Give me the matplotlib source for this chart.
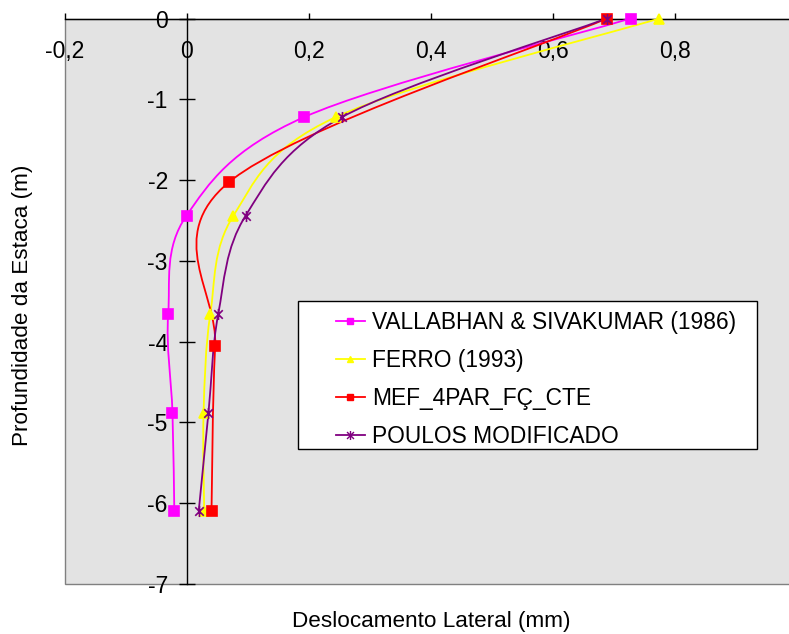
import numpy as np
import matplotlib
matplotlib.use('Agg')
import matplotlib.pyplot as plt
from matplotlib.path import Path
from matplotlib.patches import PathPatch, Rectangle
from matplotlib.lines import Line2D

plt.rcParams['font.family'] = ['Liberation Sans', 'DejaVu Sans']
plt.rcParams['axes.unicode_minus'] = False

# depths (m) and lateral displacement (mm)
depth_6 = [0, -1.22, -2.44, -3.66, -4.88, -6.10]
depth_4 = [0, -2.03, -4.06, -6.10]

vallabhan = [0.728, 0.193, 0.000, -0.030, -0.023, -0.020]
ferro = [0.775, 0.245, 0.077, 0.039, 0.028, 0.029]
mef = [0.689, 0.069, 0.047, 0.041]
poulos = [0.689, 0.255, 0.097, 0.052, 0.036, 0.020]

x_ticks = [-0.2, 0, 0.2, 0.4, 0.6, 0.8]
x_tick_labels = ['-0,2', '0', '0,2', '0,4', '0,6', '0,8']
y_ticks = [0, -1, -2, -3, -4, -5, -6, -7]
y_tick_labels = ['0', '-1', '-2', '-3', '-4', '-5', '-6', '-7']

# excel style asterisk: x plus a vertical bar
star = Path([(-1, -1), (1, 1), (-1, 1), (1, -1), (0, -1.3), (0, 1.3)],
            [Path.MOVETO, Path.LINETO, Path.MOVETO, Path.LINETO, Path.MOVETO, Path.LINETO])

series = [
    (vallabhan, depth_6, '#ff00ff', 's', 'VALLABHAN & SIVAKUMAR (1986)'),
    (ferro, depth_6, '#ffff00', '^', 'FERRO (1993)'),
    (mef, depth_4, '#ff0000', 's', 'MEF_4PAR_FÇ_CTE'),
    (poulos, depth_6, '#800080', star, 'POULOS MODIFICADO'),
]


def smooth_path(xs, ys):
    # bezier smoothing through the points (like excel smoothed lines)
    p = np.column_stack([xs, ys]).astype(float)
    n = len(p)
    verts = [p[0]]
    codes = [Path.MOVETO]
    for i in range(n - 1):
        p0 = p[i - 1] if i > 0 else p[i]
        p3 = p[i + 2] if i + 2 < n else p[i + 1]
        c1 = p[i] + (p[i + 1] - p0) / 6.0
        c2 = p[i + 1] - (p3 - p[i]) / 6.0
        verts += [c1, c2, p[i + 1]]
        codes += [Path.CURVE4] * 3
    return Path(verts, codes)


fig = plt.figure(figsize=(7.89, 6.34), dpi=100)
W, H = 789.0, 634.0
left_px, right_px, top_px, bot_px = 64.5, 796.5, 18.5, 584.0
ax = fig.add_axes([left_px / W, 1 - bot_px / H, (right_px - left_px) / W, (bot_px - top_px) / H])
ax.set_xlim(-0.2, 1.0)
ax.set_ylim(-7, 0)
ax.set_facecolor('#e3e3e3')
ax.patch.set_edgecolor('#808080')
ax.patch.set_linewidth(1.0)

for sp in ['bottom', 'right']:
    ax.spines[sp].set_visible(False)
ax.spines['top'].set_color('black')
ax.spines['top'].set_linewidth(1.0)
ax.spines['left'].set_position(('data', 0))
ax.spines['left'].set_color('black')
ax.spines['left'].set_linewidth(1.0)

ax.xaxis.set_ticks_position('top')
ax.set_xticks(x_ticks)
ax.set_xticklabels([])
ax.tick_params(axis='x', direction='out', length=4.5, width=1, color='black')
for xv, lab in zip(x_ticks, x_tick_labels):
    ax.text(xv, -0.41, lab, ha='center', va='center', fontsize=16.5)

ax.set_yticks(y_ticks)
ax.set_yticklabels(y_tick_labels)
ax.tick_params(axis='y', direction='inout', length=11, width=1, color='black',
               labelsize=16.5, pad=8)

handles = []
for xs, ys, col, mk, lab in series:
    patch = PathPatch(smooth_path(xs, ys), facecolor='none', edgecolor=col, lw=1.3, zorder=3)
    ax.add_patch(patch)
    ms = 8 if mk is star else 6.5
    ax.plot(xs, ys, linestyle='none', marker=mk, markersize=ms, color=col,
            markeredgecolor=col, markeredgewidth=1.2, clip_on=False, zorder=4)
    handles.append(Line2D([], [], color=col, lw=1.3, marker=mk, markersize=ms - 1.5,
                          markeredgecolor=col, markeredgewidth=1.0, label=lab))

# legend frame
fig.patches.append(Rectangle((298 / W, 1 - 449 / H), (757 - 298) / W, (449 - 301) / H,
                             transform=fig.transFigure, facecolor='white',
                             edgecolor='black', lw=1.0, zorder=5))
leg = fig.legend(handles=handles, loc='upper left', bbox_to_anchor=(336 / W, 1 - 311 / H),
                 frameon=False, fontsize=16.4, handlelength=1.27, handletextpad=0.3,
                 labelspacing=0.655, borderpad=0, borderaxespad=0)
leg.set_zorder(6)

fig.text(431 / W, 1 - 621 / H, 'Deslocamento Lateral (mm)', ha='center', va='center', fontsize=16.2)
fig.text(23 / W, 1 - 305 / H, 'Profundidade da Estaca (m)', ha='center', va='center',
         rotation=90, fontsize=16.2)

fig.savefig('out.png', dpi=100)
